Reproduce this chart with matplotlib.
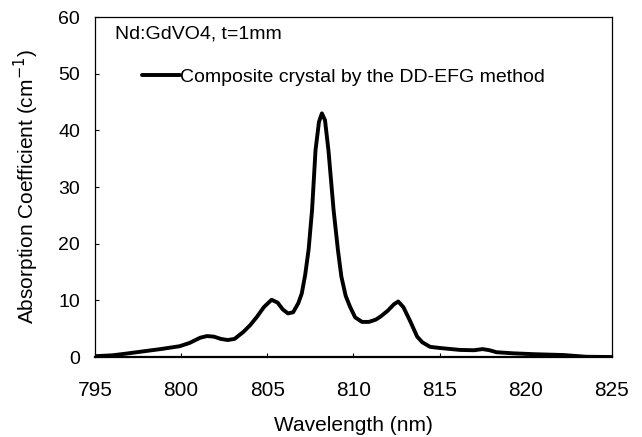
import matplotlib
matplotlib.use("Agg")
import matplotlib.pyplot as plt

plt.rcParams['font.family'] = ['Liberation Sans', 'DejaVu Sans']

wavelength = [795.0, 796.0, 796.8, 797.8, 798.8, 799.9, 800.5, 801.1, 801.5, 801.9,
              802.3, 802.7, 803.1, 803.6, 804.0, 804.4, 804.8, 805.25, 805.6, 805.9,
              806.2, 806.5, 806.8, 807.0, 807.2, 807.4, 807.6, 807.8, 808.0, 808.17,
              808.35, 808.55, 808.85, 809.1, 809.3, 809.55, 809.8, 810.1, 810.5, 810.9,
              811.3, 811.6, 812.0, 812.35, 812.6, 812.9, 813.3, 813.7, 814.0, 814.45,
              815.0, 816.2, 817.0, 817.5, 817.9, 818.3, 819.3, 820.5, 822.2, 823.5, 825.0]
absorption = [0.15, 0.3, 0.6, 1.0, 1.4, 1.9, 2.5, 3.4, 3.7, 3.6,
              3.2, 3.0, 3.2, 4.4, 5.6, 7.1, 8.8, 10.1, 9.6, 8.4,
              7.7, 7.9, 9.5, 11.2, 14.5, 19.0, 26.0, 36.5, 41.5, 43.0,
              41.8, 36.5, 25.9, 18.9, 14.2, 10.8, 8.9, 7.0, 6.2, 6.2,
              6.6, 7.2, 8.2, 9.3, 9.8, 8.8, 6.3, 3.6, 2.6, 1.8,
              1.6, 1.25, 1.2, 1.4, 1.2, 0.85, 0.65, 0.5, 0.35, 0.05, 0.0]

x_ticks = [795, 800, 805, 810, 815, 820, 825]
y_ticks = [0, 10, 20, 30, 40, 50, 60]
series_label = "Composite crystal by the DD-EFG method"
annotation = "Nd:GdVO4, t=1mm"

fig = plt.figure(figsize=(6.42, 4.37), dpi=100)
ax = fig.add_axes([0.148, 0.183, 0.805, 0.778])
ax.plot(wavelength, absorption, color='black', lw=2.8, label=series_label,
        solid_joinstyle='round', solid_capstyle='round')
ax.set_xlim(795, 825)
ax.set_ylim(0, 60)
ax.set_xticks(x_ticks)
ax.set_yticks(y_ticks)
ax.tick_params(axis='x', direction='in', length=3, width=0.8, labelsize=15, pad=17)
ax.tick_params(axis='y', direction='in', length=3, width=0.8, labelsize=14, pad=10.8)
for s in ax.spines.values():
    s.set_linewidth(0.9)
ax.spines['bottom'].set_linewidth(1.6)
ax.set_xlabel("Wavelength (nm)", fontsize=15, labelpad=12)
ax.set_ylabel("Absorption Coefficient (cm$^{-1}$)", fontsize=15, labelpad=12)
ax.text(0.0387, 0.95, annotation, transform=ax.transAxes, fontsize=14,
        ha='left', va='center')
ax.legend(loc='center left', bbox_to_anchor=(0.0909, 0.8235), frameon=False,
          fontsize=14, handlelength=1.96, handletextpad=0.0, borderaxespad=0,
          borderpad=0)
fig.savefig("out.png", dpi=100)
